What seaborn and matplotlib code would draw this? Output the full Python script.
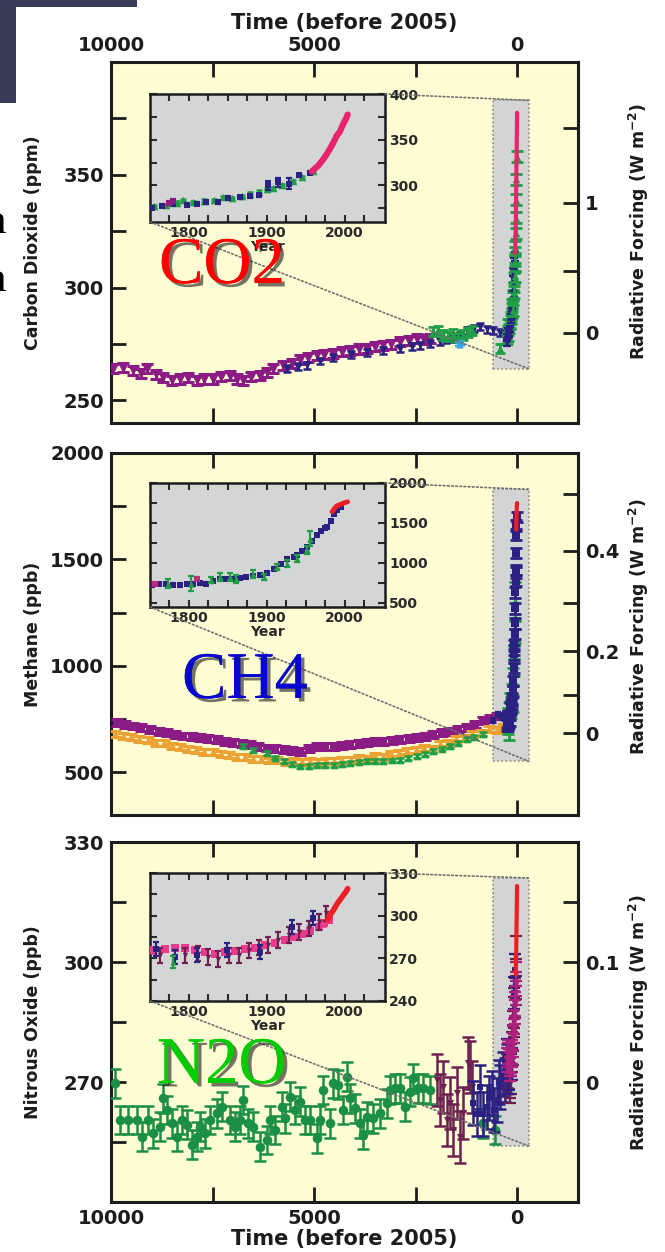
import seaborn as sns
import matplotlib.pyplot as plt
import matplotlib.patheffects as pe
import numpy as np
from matplotlib.patches import Rectangle, ConnectionPatch

# ---------------------------------------------------------------
# Values.
# Long records in years before 2005, inset records in calendar years.
# ---------------------------------------------------------------

# CO2 (ppm)
co2_purple_bp = [9950, 9700, 9460, 9250, 9115, 8900, 8720, 8500, 8300, 8100,
                 7880, 7700, 7490, 7300, 7070, 6900, 6750, 6550, 6330, 6150,
                 6010, 5760, 5550, 5340, 5150, 4930, 4750, 4530, 4300, 4110,
                 3900, 3700, 3500, 3300, 3100, 2880, 2650, 2460, 2300, 2140]
co2_purple_ppm = [264, 264.5, 263.4, 262, 264, 261.5, 260.3, 259, 259.5, 260,
                  258.9, 259.5, 259.5, 260.5, 261, 259.5, 259, 260.5, 261, 262.5,
                  264, 265.6, 266.5, 268, 269, 270, 270.2, 270.7, 271.5, 272,
                  272.8, 273, 273.8, 274.5, 275, 276, 276.5, 277.4, 277, 277.4]
co2_navy_bp = [5670, 5400, 5170, 4850, 4530, 4100, 3700, 3300, 2880, 2600, 2390, 2150,
               1900, 1750, 1570, 1400, 1230, 1050, 910, 750, 590, 420, 250]
co2_navy_ppm = [264, 265, 265.6, 267.5, 269, 270.3, 271.4, 272.2, 273, 273.8, 274.5, 275.2,
                276, 276.8, 277.4, 279, 281, 282, 282.6, 281.5, 281, 280, 280]
co2_green_bp = [2070, 1950, 1820, 1700, 1580, 1450, 1330, 1200, 1100, 420]
co2_green_ppm = [280.4, 281, 279, 278.5, 279.5, 278, 279, 280, 281, 273]
co2_cyan_bp = [1450, 1400, 1350]
co2_cyan_ppm = [275, 274.5, 275.5]
co2_firn_bp = [90, 75, 62, 50, 42, 35, 28, 22, 17, 12]
co2_firn_ppm = [290, 298, 305, 312, 318, 324, 331, 339, 348, 358]

co2_ins_navy_yr = [1753, 1766, 1779, 1797, 1810, 1822, 1837, 1850, 1866, 1878,
                   1890, 1902, 1915, 1928, 1941, 1956]
co2_ins_navy_ppm = [275.6, 278, 280, 279, 280, 281.7, 281.7, 286.5, 287, 288,
                    289, 300, 303.5, 302, 311, 314]
co2_ins_navy_err = [1.5, 1.5, 2, 1.5, 1.5, 1.5, 1.5, 2, 1.5, 1.5, 2, 5, 5, 6, 2, 2]
co2_ins_green_yr = [1755, 1770, 1785, 1792, 1805, 1820, 1832, 1844, 1856, 1868,
                    1878, 1890, 1900, 1908, 1920, 1934, 1945, 1960]
co2_ins_green_ppm = [277, 278.5, 281, 284, 282, 283.5, 284, 287, 286, 288.5,
                     291, 293, 296, 297, 300, 304.7, 309, 316]
co2_ins_purple_yr = [1775, 1780]
co2_ins_purple_ppm = [281, 283]
co2_ml_yr = [1958, 1962, 1966, 1970, 1974, 1978, 1982, 1986, 1990, 1994, 1998, 2002, 2004]
co2_ml_ppm = [315.3, 318.5, 321.4, 325.7, 330.2, 335.4, 341.1, 347.4, 354.4, 358.8,
              366.7, 373.2, 377.5]

# CH4 (ppb)
ch4_purple_bp = [9860, 9650, 9450, 9250, 9040, 8830, 8630, 8420, 8220, 8010,
                 7810, 7600, 7400, 7200, 6990, 6780, 6580, 6370, 6160, 5960,
                 5750, 5540, 5340, 5130, 4930, 4720, 4520, 4320, 4110, 3900,
                 3700, 3500, 3290, 3090, 2880, 2670, 2470, 2260, 2060, 1850,
                 1650, 1450, 1240, 1030, 830, 660, 500]
ch4_purple_ppb = [734, 725, 718, 710, 702, 694, 686, 678, 671, 667,
                  663, 660, 655, 647, 639, 635, 631, 622, 615, 612,
                  608, 604, 600, 612, 623, 620, 623, 628, 631, 636,
                  639, 644, 647, 650, 655, 660, 663, 670, 679, 686,
                  694, 702, 710, 726, 742, 755, 765]
ch4_orange_bp = [9900, 9700, 9500, 9300, 9100, 8900, 8700, 8500, 8300, 8100,
                 7900, 7700, 7500, 7300, 7100, 6900, 6700, 6500, 6300, 6100,
                 5900, 5700, 5500, 5300, 5100, 4900, 4700, 4500, 4300, 4100,
                 3900, 3700, 3500, 3300, 3100, 2900, 2700, 2500, 2300, 2100,
                 1900, 1700, 1500, 1300, 1100, 900, 700, 500, 350]
ch4_orange_ppb = [680, 671, 666, 655, 651, 640, 636, 625, 620, 609,
                  605, 597, 595, 585, 582, 573, 572, 564, 565, 556,
                  557, 549, 553, 548, 552, 550, 556, 553, 560, 557,
                  566, 565, 575, 574, 586, 590, 602, 605, 616, 612,
                  634, 640, 658, 662, 680, 686, 702, 698, 715]
ch4_green_bp = [6750, 6500, 6160, 5950, 5750, 5550, 5340, 5130, 4930, 4720,
                4520, 4300, 4110, 3900, 3700, 3500, 3290, 3080, 2880, 2680,
                2470, 2270, 2060, 1850, 1650, 1450, 1240, 1050, 850]
ch4_green_ppb = [623, 605, 592, 570, 552, 538, 528, 532, 536, 536,
                 536, 540, 544, 548, 552, 552, 552, 556, 560, 568,
                 576, 588, 600, 612, 623, 640, 655, 668, 680]
ch4_navy_bp = [600, 480, 380, 300]
ch4_navy_ppb = [745, 770, 760, 775]

ch4_ins_navy_yr = [1753, 1762, 1771, 1780, 1788, 1797, 1805, 1814, 1822, 1831,
                   1840, 1848, 1857, 1866, 1874, 1883, 1891, 1900, 1909, 1918,
                   1926, 1935, 1939, 1945, 1952, 1958, 1965, 1970, 1975, 1978,
                   1982, 1986, 1990, 1995]
ch4_ins_navy_ppb = [721, 735, 742, 730, 721, 735, 742, 745, 742, 770,
                    805, 800, 805, 815, 825, 835, 846, 880, 930, 990,
                    1055, 1075, 1096, 1150, 1200, 1270, 1346, 1400, 1440, 1450,
                    1530, 1617, 1660, 1700]
ch4_ins_green_yr = [1773, 1803, 1829, 1840, 1853, 1861, 1883, 1896, 1913, 1926, 1939, 1952, 1956]
ch4_ins_green_ppb = [742, 742, 784, 825, 825, 805, 867, 825, 950, 992, 1055, 1159, 1305]
ch4_ins_green_err = [60, 90, 40, 50, 50, 50, 50, 40, 40, 40, 40, 50, 90]
ch4_ins_pink_yr = [1757, 1810]
ch4_ins_pink_ppb = [742, 805]
ch4_red_yr = [1984, 1987, 1990, 1993, 1996, 1999, 2002, 2004]
ch4_red_ppb = [1640, 1680, 1714, 1725, 1738, 1750, 1760, 1765]

# N2O (ppb)
n2o_green_bp = [9902, 9778, 9573, 9368, 9245, 9081, 8957, 8793, 8711, 8629,
                8506, 8383, 8260, 8136, 8013, 7890, 7808, 7685, 7562, 7397,
                7274, 7069, 6946, 6823, 6741, 6618, 6494, 6330, 6166, 6084,
                5961, 5797, 5714, 5591, 5468, 5345, 5222, 5099, 4934, 4853,
                4770, 4606, 4524, 4401, 4278, 4196, 4113, 3990, 3867, 3785,
                3703, 3539, 3375, 3210, 3128, 3005, 2882, 2759, 2636, 2554,
                2430, 2307, 2143, 830, 542]
n2o_green_ppb = [269.7, 260.5, 260.5, 260.5, 256.3, 260.5, 257.2, 258.8, 265.9, 263,
                 259.7, 256.3, 260.5, 259.3, 254.3, 256.3, 258.8, 257.2, 260.5, 262.2,
                 263.8, 260.5, 258.8, 260.5, 265.5, 259.7, 258.8, 253.8, 255.5, 260.5,
                 258, 263.8, 260.9, 266.3, 263, 265.1, 260.5, 260.5, 255.9, 260.5,
                 268, 259.7, 269.7, 269.3, 263, 271.3, 265.9, 263.4, 259.7, 256.8,
                 261.3, 260.9, 262.2, 264.7, 268, 268.4, 268.4, 263.8, 267.6, 270.9,
                 268.4, 268.4, 268, 259.7, 258]
n2o_maroon_bp = [1979, 1897, 1815, 1733, 1651, 1568, 1486, 1404, 1322, 1199, 1158, 1117]
n2o_maroon_ppb = [270.5, 265.5, 268.8, 260.5, 264.7, 258, 267.2, 256.3, 262.2, 274.7, 273.8, 268.8]
n2o_navy_bp = [1076, 990, 912, 830, 747, 680, 624, 560, 501, 450, 419, 350, 296, 260]
n2o_navy_ppb = [264.7, 262, 268.8, 262, 263.8, 266, 267.2, 263, 265.5, 270, 268.8, 272, 270.5, 274]

n2o_ins_pink_yr = [1754, 1769, 1782, 1795, 1808, 1821, 1834, 1847, 1859, 1872,
                   1885, 1898, 1911, 1924, 1935, 1945, 1956, 1967, 1974, 1980]
n2o_ins_pink_ppb = [275.6, 276.8, 277.5, 277.5, 275.6, 274.4, 273.3, 274.4, 275.2, 276.8,
                    277.5, 279.2, 281, 282.7, 285, 287.4, 289.5, 292.2, 294.5, 296.9]
n2o_ins_maroon_yr = [1763, 1795, 1812, 1825, 1838, 1851, 1864, 1877, 1890, 1902,
                     1915, 1928, 1941, 1954, 1967, 1976]
n2o_ins_maroon_ppb = [272.1, 272.1, 273.3, 271, 269.7, 272.1, 272.1, 275.6, 277.5, 279.2,
                      282.7, 286.3, 288.6, 291, 295.7, 301.6]
n2o_ins_navy_yr = [1758, 1782, 1810, 1849, 1892, 1933, 1960]
n2o_ins_navy_ppb = [276.8, 270.9, 272.1, 275.6, 274.4, 292.2, 298.1]
n2o_ins_green_yr = [1780]
n2o_ins_green_ppb = [267.4]
n2o_red_yr = [1978, 1982, 1986, 1990, 1994, 1998, 2002, 2004]
n2o_red_ppb = [297, 301, 304, 308, 311, 314, 317, 319]

# ---------------------------------------------------------------
# Style
# ---------------------------------------------------------------
sns.set_style('ticks')
plt.rcParams['font.family'] = ['DejaVu Sans']
plt.rcParams['font.weight'] = 'bold'
plt.rcParams['axes.labelweight'] = 'bold'

YELLOW = '#fdfcd2'
GREY = '#d4d6d6'
INK = '#1c1c1c'
PURPLE = '#8b1c85'
NAVY = '#2b2182'
GREEN = '#1f9e45'
CYAN = '#3aa8e8'
ORANGE = '#eba232'
MAROON = '#6c2150'
PINK = '#ee3a8c'
RED = '#ee1f24'
CO2_RED = '#e8246c'
N2O_GREEN = '#1b8f45'

W, H = 665, 1252


def fbox(l, t, r, b):
    # pixel box (left, top, right, bottom) -> figure fraction
    return [l / W, 1 - b / H, (r - l) / W, (b - t) / H]


def before_2005(years):
    return [2005 - yr for yr in years]


def plot_points(ax, x, y, color, marker, err, size=24, cap=3.0, z=3, lw=1.6):
    ax.errorbar(x, y, yerr=err, fmt='none', ecolor=color, elinewidth=lw,
                capsize=cap, capthick=lw, zorder=z)
    sns.scatterplot(x=x, y=y, ax=ax, color=color, marker=marker, s=size,
                    linewidth=0, zorder=z, legend=False)


def style_main(ax, ylim, yt, ytm, ylabel, top_labels=False, bottom_labels=False):
    ax.set_facecolor(YELLOW)
    ax.set_xlim(10000, -1500)
    ax.set_ylim(*ylim)
    ax.set_xticks([10000, 5000, 0])
    ax.set_xticks([7500, 2500], minor=True)
    ax.set_yticks(yt)
    ax.set_yticks(ytm, minor=True)
    ax.tick_params(which='both', direction='in', length=11, width=2, colors=INK,
                   top=True, bottom=True, left=True, right=False,
                   labeltop=top_labels, labelbottom=bottom_labels, labelsize=14, pad=5)
    for sp in ax.spines.values():
        sp.set_visible(True)
        sp.set_linewidth(2.2)
        sp.set_color(INK)
    ax.set_ylabel(ylabel, fontsize=12.5, color=INK)
    ax.yaxis.set_label_coords(-0.148, 0.5)
    if top_labels or bottom_labels:
        ax.set_xlabel('Time (before 2005)', fontsize=15, color=INK,
                      labelpad=5 if top_labels else 1)
        if top_labels:
            ax.xaxis.set_label_position('top')
    else:
        ax.set_xlabel('')


def right_axis(ax, fwd, inv, ticks, labels, minor, lab_y):
    sec = ax.secondary_yaxis('right', functions=(fwd, inv))
    sec.set_ticks(ticks, labels=labels)
    sec.set_ticks(minor, minor=True)
    sec.tick_params(which='both', direction='in', length=11, width=2, colors=INK,
                    labelsize=14, pad=5)
    sec.spines['right'].set_linewidth(2.2)
    sec.set_ylabel(r'Radiative Forcing (W m$^{\mathbf{-2}}$)', fontsize=12.5, color=INK)
    sec.yaxis.set_label_coords(1.105, lab_y, transform=ax.transAxes)


def style_inset(ax, ylim, yt, ytm):
    ax.set_facecolor(GREY)
    ax.set_xlim(1750, 2052)
    ax.set_ylim(*ylim)
    ax.set_xticks([1800, 1900, 2000])
    ax.set_xticks([1775, 1825, 1850, 1875, 1925, 1950, 1975, 2025], minor=True)
    ax.set_yticks(yt)
    ax.set_yticks(ytm, minor=True)
    ax.tick_params(which='both', direction='in', length=5, width=1.5, colors='#2a2a2a',
                   top=True, bottom=True, left=True, right=True,
                   labelleft=False, labelright=True, labelsize=10, pad=3)
    for sp in ax.spines.values():
        sp.set_visible(True)
        sp.set_linewidth(1.8)
        sp.set_color(INK)
    ax.set_xlabel('Year', fontsize=10, color='#2a2a2a', labelpad=0)
    ax.set_ylabel('')


def zoom_box(fig, ax, ins, x0, x1, y0, y1):
    ax.add_patch(Rectangle((x0, y0), x1 - x0, y1 - y0, facecolor='#d3d5d5',
                           edgecolor='#8a8a8a', lw=1.2, ls=(0, (1, 1.5)), zorder=1))
    for a, b in [((1, 1), (x1, y1)), ((0, 0), (x1, y0))]:
        con = ConnectionPatch(xyA=a, coordsA=ins.transAxes, xyB=b, coordsB=ax.transData,
                              color='#707070', lw=1.2, linestyle=(0, (1, 1.5)), zorder=2)
        fig.add_artist(con)


fig = plt.figure(figsize=(W / 100, H / 100), dpi=100)

# slide background: dark block behind the pasted figure
fig.add_artist(Rectangle((0, 1 - 103 / H), 137 / W, 103 / H, transform=fig.transFigure,
                         facecolor='#393c57', edgecolor='none', zorder=-2))
fig.add_artist(Rectangle((16 / W, 0), 1, 1 - 7 / H, transform=fig.transFigure,
                         facecolor='white', edgecolor='none', zorder=-1))
for yb in [233, 291]:
    fig.text(6 / W, 1 - yb / H, 'n', fontsize=31, family='Liberation Serif',
             weight='normal', ha='right', va='baseline', color='black')

# ---------------- CO2 ----------------
ax1 = fig.add_axes(fbox(111, 62, 578, 423))
plot_points(ax1, co2_purple_bp, co2_purple_ppm, PURPLE, 'v', 2.0, 55, 4, lw=2.2)
plot_points(ax1, co2_navy_bp, co2_navy_ppm, NAVY, 'v', 1.5, 30, 3, lw=1.8)
plot_points(ax1, co2_green_bp, co2_green_ppm, GREEN, '^', 2.0, 40, 3.5, lw=2)
plot_points(ax1, co2_cyan_bp, co2_cyan_ppm, CYAN, '^', 1.0, 20, 2)
plot_points(ax1, before_2005(co2_ins_green_yr), co2_ins_green_ppm, GREEN, '^', 2.0, 30, 4, lw=2)
plot_points(ax1, before_2005(co2_ins_navy_yr), co2_ins_navy_ppm, NAVY, 'v', co2_ins_navy_err, 24, 3)
plot_points(ax1, co2_firn_bp, co2_firn_ppm, GREEN, '^', 2.5, 30, 4, lw=2)
sns.lineplot(x=before_2005(co2_ml_yr), y=co2_ml_ppm, ax=ax1, color=CO2_RED, lw=3, zorder=5)
style_main(ax1, (240, 400), [250, 300, 350], [275, 325, 375], 'Carbon Dioxide (ppm)',
           top_labels=True)
right_axis(ax1, lambda c: 5.35 * np.log(np.clip(c, 1, None) / 280),
           lambda f: 280 * np.exp(np.asarray(f) / 5.35),
           [0, 1], ['0', '1'], [0.5, 1.5], 0.53)

ins1 = fig.add_axes(fbox(150, 94, 385, 222))
plot_points(ins1, co2_ins_green_yr, co2_ins_green_ppm, GREEN, '^', 1.5, 30, 2, lw=1.8)
plot_points(ins1, co2_ins_navy_yr, co2_ins_navy_ppm, NAVY, 's', co2_ins_navy_err, 16, 2.5)
plot_points(ins1, co2_ins_purple_yr, co2_ins_purple_ppm, PURPLE, 's', 2.0, 16, 2)
sns.lineplot(x=co2_ml_yr, y=co2_ml_ppm, ax=ins1, color=CO2_RED, lw=4.5, zorder=5)
style_inset(ins1, (260, 400), [300, 350, 400], [275, 325, 375])
zoom_box(fig, ax1, ins1, 600, -290, 264, 383)

# ---------------- CH4 ----------------
ax2 = fig.add_axes(fbox(111, 453, 578, 815))
plot_points(ax2, ch4_purple_bp, ch4_purple_ppb, PURPLE, 's', 16, 40, 4, lw=2.2)
plot_points(ax2, ch4_orange_bp, ch4_orange_ppb, ORANGE, '^', 14, 40, 4, lw=2.2)
plot_points(ax2, ch4_green_bp, ch4_green_ppb, GREEN, '^', 9, 30, 3, lw=1.8)
plot_points(ax2, ch4_navy_bp, ch4_navy_ppb, NAVY, 's', 12, 20, 2.5)
plot_points(ax2, before_2005(ch4_ins_green_yr), ch4_ins_green_ppb, GREEN, '^', ch4_ins_green_err, 30, 4, lw=2)
plot_points(ax2, before_2005(ch4_ins_navy_yr), ch4_ins_navy_ppb, NAVY, 's', 25, 30, 4, lw=2)
sns.lineplot(x=before_2005(ch4_red_yr), y=ch4_red_ppb, ax=ax2, color=RED, lw=3, zorder=5)
style_main(ax2, (300, 2000), [500, 1000, 1500, 2000], [750, 1250, 1750], 'Methane (ppb)')
right_axis(ax2, lambda m: 0.0305 * (np.sqrt(np.clip(m, 0, None)) - np.sqrt(683)),
           lambda f: (np.asarray(f) / 0.0305 + np.sqrt(683)) ** 2,
           [0, 0.2, 0.4], ['0', '0.2', '0.4'], [0.1, 0.3, 0.5], 0.52)

ins2 = fig.add_axes(fbox(150, 483, 385, 607))
plot_points(ins2, ch4_ins_navy_yr, ch4_ins_navy_ppb, NAVY, 's', 15, 20, 1.5)
plot_points(ins2, ch4_ins_pink_yr, ch4_ins_pink_ppb, '#c0287a', 's', 15, 16, 1.5)
plot_points(ins2, ch4_ins_green_yr, ch4_ins_green_ppb, GREEN, '^', ch4_ins_green_err, 22, 2.5)
sns.lineplot(x=ch4_red_yr, y=ch4_red_ppb, ax=ins2, color=RED, lw=3.5, zorder=5)
style_inset(ins2, (450, 2000), [500, 1000, 1500, 2000], [750, 1250, 1750])
zoom_box(fig, ax2, ins2, 600, -290, 552, 1829)

# ---------------- N2O ----------------
ax3 = fig.add_axes(fbox(111, 842, 578, 1202))
plot_points(ax3, n2o_green_bp, n2o_green_ppb, N2O_GREEN, 'o', 3.6, 48, 4.5, lw=1.8)
plot_points(ax3, n2o_maroon_bp, n2o_maroon_ppb, MAROON, 'v', 6.5, 26, 4.5, lw=1.8)
plot_points(ax3, n2o_navy_bp, n2o_navy_ppb, NAVY, 's', 5.5, 24, 4, lw=1.8)
plot_points(ax3, before_2005(n2o_ins_maroon_yr), n2o_ins_maroon_ppb, MAROON, 'v', 5, 24, 4)
plot_points(ax3, before_2005(n2o_ins_navy_yr), n2o_ins_navy_ppb, NAVY, 's', 4, 24, 4)
plot_points(ax3, before_2005(n2o_ins_pink_yr), n2o_ins_pink_ppb, '#b0207f', 'v', 3, 24, 4)
sns.lineplot(x=before_2005(n2o_red_yr), y=n2o_red_ppb, ax=ax3, color=RED, lw=3, zorder=5)
style_main(ax3, (240, 330), [270, 300, 330], [255, 285, 315], 'Nitrous Oxide (ppb)',
           bottom_labels=True)
right_axis(ax3, lambda n: (np.asarray(n) - 270) / 300, lambda f: np.asarray(f) * 300 + 270,
           [0, 0.1], ['0', '0.1'], [0.05, 0.15], 0.5)

ins3 = fig.add_axes(fbox(150, 873, 385, 1001))
plot_points(ins3, n2o_ins_pink_yr, n2o_ins_pink_ppb, PINK, 's', 1.5, 26, 1.5, lw=2)
plot_points(ins3, n2o_ins_maroon_yr, n2o_ins_maroon_ppb, MAROON, 'v', 5.5, 16, 2.5)
plot_points(ins3, n2o_ins_navy_yr, n2o_ins_navy_ppb, NAVY, 's', 5, 20, 2.5)
plot_points(ins3, n2o_ins_green_yr, n2o_ins_green_ppb, GREEN, '^', 4, 18, 2)
sns.lineplot(x=n2o_red_yr, y=n2o_red_ppb, ax=ins3, color=RED, lw=4, zorder=5)
style_inset(ins3, (240, 330), [240, 270, 300, 330], [255, 285, 315])
zoom_box(fig, ax3, ins3, 600, -290, 254, 321)

# big gas names pasted on the slide
shadow = [pe.withSimplePatchShadow(offset=(2.5, -2.5), shadow_rgbFace='#1a1a1a', alpha=0.6),
          pe.Normal()]
for label, x, yb, col in [('CO2', 159, 283, '#ff0000'), ('CH4', 182, 698, '#0808cc'),
                          ('N2O', 157, 1083, '#00cc00')]:
    fig.text(x / W, 1 - yb / H, label, fontsize=48, family='Liberation Serif',
             weight='normal', color=col, ha='left', va='baseline',
             path_effects=shadow, zorder=10)

fig.savefig('out.png', dpi=100)
